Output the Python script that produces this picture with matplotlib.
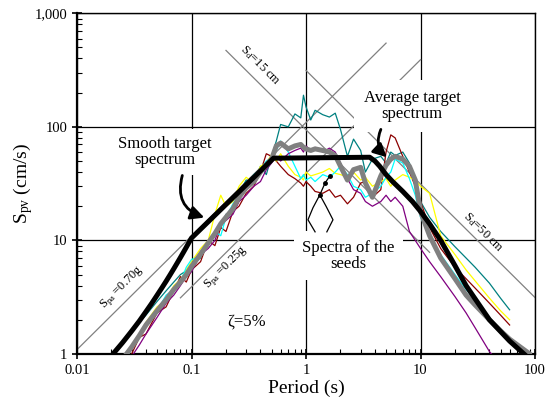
import numpy as np
import matplotlib.pyplot as plt
from matplotlib.ticker import FuncFormatter, NullFormatter

plt.rcParams['font.family'] = ['Liberation Serif', 'DejaVu Serif']
plt.rcParams['mathtext.fontset'] = 'custom'
plt.rcParams['mathtext.rm'] = 'Liberation Serif'
plt.rcParams['mathtext.it'] = 'Liberation Serif:italic'

# periods of the seed spectra (s)
T = [0.02, 0.025, 0.03, 0.035, 0.04, 0.05, 0.06, 0.07, 0.08, 0.09,
     0.1, 0.12, 0.14, 0.16, 0.18, 0.2, 0.23, 0.26, 0.3, 0.35,
     0.4, 0.45, 0.5, 0.55, 0.6, 0.7, 0.8, 0.9, 0.95, 1.0,
     1.1, 1.2, 1.4, 1.6, 1.8, 2.0, 2.3, 2.6, 3.0, 3.3,
     3.8, 4.5, 5.0, 5.5, 6.0, 7.0, 8.0, 9.0, 10, 12,
     15, 20, 25, 30, 40, 50, 60]

# seed spectra, Spv (cm/s)
seed_teal = [1.0, 1.3, 1.6, 1.9, 2.2, 2.9, 3.6, 4.3, 5.0, 5.4,
             6.2, 7.0, 9.8, 12, 13, 17, 18, 26, 34, 33,
             45, 38, 55, 75, 105, 100, 130, 120, 190, 150,
             115, 140, 128, 122, 132, 95, 55, 78, 62, 40,
             52, 55, 48, 60, 56, 60, 48, 32, 22, 16,
             12, 8.8, 7.0, 5.8, 4.2, 3.1, 2.45]
seed_red = [0.6, 0.8, 1.0, 1.4, 1.5, 2.3, 2.6, 3.6, 4.8, 4.3,
            5.5, 6.5, 10, 9.0, 13, 12, 18, 20, 26, 30,
            40, 58, 55, 50, 45, 38, 35, 32, 30, 33,
            30, 27, 26, 28, 24, 25, 21, 24, 32, 33,
            24, 28, 60, 85, 80, 55, 40, 30, 22, 13,
            8.5, 5.8, 4.6, 3.8, 2.8, 2.2, 1.8]
seed_yellow = [0.7, 0.9, 1.2, 1.5, 1.9, 2.6, 3.0, 4.0, 4.5, 5.5,
               6.5, 8.5, 10, 17, 25, 20, 22, 30, 36, 32,
               45, 48, 57, 50, 58, 45, 38, 36, 34, 40,
               37, 38, 40, 43, 39, 38, 36, 40, 34, 36,
               30, 33, 35, 30, 34, 38, 36, 34, 30, 26,
               11, 7.5, 5.5, 4.4, 3.1, 2.4, 2.0]
seed_cyan = [0.6, 0.85, 1.1, 1.4, 1.8, 2.4, 3.3, 3.7, 4.3, 5.8,
             6.8, 7.2, 9.0, 12, 11, 16, 21, 25, 30, 38,
             42, 50, 53, 62, 75, 60, 45, 35, 38, 34,
             36, 33, 38, 36, 40, 45, 38, 30, 28, 24,
             26, 30, 36, 40, 52, 48, 35, 25, 16, 11,
             7.5, 5.0, 3.7, 3.0, 2.1, 1.6, 1.37]
seed_purple = [0.5, 0.7, 0.95, 1.2, 1.5, 2.1, 2.8, 3.3, 4.0, 4.8,
               5.3, 7.5, 8.5, 10, 14, 15, 17, 22, 25, 30,
               33, 42, 48, 55, 50, 58, 62, 65, 60, 68,
               62, 66, 60, 65, 60, 48, 35, 28, 26, 22,
               20, 22, 25, 22, 24, 20, 12, 10, 8.5, 6.5,
               4.8, 3.2, 2.3, 1.7, 1.05, 0.8, 0.7]

# average target spectrum
T_avg = [0.025, 0.03, 0.035, 0.04, 0.05, 0.06, 0.07, 0.08, 0.09, 0.1,
         0.12, 0.14, 0.16, 0.18, 0.2, 0.23, 0.26, 0.3, 0.35, 0.4,
         0.45, 0.5, 0.55, 0.6, 0.7, 0.8, 0.9, 0.95, 1.0, 1.1,
         1.2, 1.4, 1.6, 1.8, 2.0, 2.3, 2.6, 3.0, 3.3, 3.8,
         4.5, 5.0, 5.5, 6.0, 7.0, 8.0, 9.0, 10, 12, 15,
         20, 25, 30, 40, 50, 60, 90]
S_avg = [0.9, 1.15, 1.45, 1.8, 2.4, 3.0, 3.7, 4.3, 5.0, 5.9,
         7.6, 9.5, 11.5, 14, 16, 19, 24, 29, 33, 40,
         46, 52, 68, 72, 64, 68, 70, 66, 64, 62,
         64, 62, 60, 56, 45, 34, 42, 44, 32, 24,
         37, 46, 52, 55, 52, 45, 34, 18, 11, 7,
         4.6, 3.3, 2.7, 2.0, 1.6, 1.35, 1.0]

# smooth target spectrum
T_smooth = [0.0206, 0.025, 0.03, 0.035, 0.04, 0.045, 0.05, 0.055, 0.06, 0.065,
            0.07, 0.075, 0.08, 0.085, 0.09, 0.095, 0.1, 0.52, 3.6, 4.0,
            4.4, 5.0, 5.7, 7.0, 8.5, 10, 12, 15, 20, 25,
            40, 60, 90]
S_smooth = [1.0, 1.26, 1.59, 1.95, 2.36, 2.80, 3.29, 3.81, 4.37, 4.98,
            5.63, 6.33, 7.07, 7.86, 8.70, 9.59, 10.5, 53, 54, 50,
            45, 38, 33, 27, 22, 18, 14, 10, 6, 4,
            2, 1.3, 0.9]

# reference lines: constant displacement (cm) and constant pseudo-acceleration (g)
sd_vals = [15, 50]
sd_T = [[0.2, 12], [1.0, 100]]
spa_vals = [0.70, 0.25]
spa_T = [[0.01, 5], [0.08, 10]]

fig = plt.figure(figsize=(5.47, 4.12), dpi=100)
ax = fig.add_axes([0.1408, 0.1408, 0.8373, 0.8269])
ax.set_xscale('log')
ax.set_yscale('log')
ax.set_xlim(0.01, 100)
ax.set_ylim(1, 1000)

ax.set_axisbelow(True)
ax.grid(which='major', color='black', lw=0.9)
ax.grid(which='minor', visible=False)

for sd, tt in zip(sd_vals, sd_T):
    tt = np.array(tt)
    ax.plot(tt, 2 * np.pi * sd / tt, color='#808080', lw=0.9, zorder=1.5)
for spa, tt in zip(spa_vals, spa_T):
    tt = np.array(tt)
    ax.plot(tt, spa * 981 * tt / (2 * np.pi), color='#808080', lw=0.9, zorder=1.5)

seeds = [seed_teal, seed_red, seed_yellow, seed_cyan, seed_purple]
colors = ['#008080', '#8B0000', '#FFFF00', '#00FFFF', '#800080']
for s, c in zip(seeds, colors):
    ax.plot(T, s, color=c, lw=0.9, zorder=3)

ax.plot(T_avg, S_avg, color='#808080', lw=3.6, zorder=4, solid_capstyle='round')
ax.plot(T_smooth, S_smooth, color='black', lw=3.6, zorder=5,
        solid_capstyle='round', solid_joinstyle='round')

# labels on reference lines
ax.text(0.40, 350, r'S$_\mathregular{d}$=15 cm', rotation=-45, fontsize=9,
        ha='center', va='center', rotation_mode='anchor')
ax.text(35.2, 11.7, r'S$_\mathregular{d}$=50 cm', rotation=-45, fontsize=9,
        ha='center', va='center', rotation_mode='anchor')
ax.text(0.0247, 3.84, r'S$_\mathregular{pa}$ =0.70g', rotation=45, fontsize=9,
        ha='center', va='center', rotation_mode='anchor')
ax.text(0.2, 5.75, r'S$_\mathregular{pa}$ =0.25g', rotation=45, fontsize=9,
        ha='center', va='center', rotation_mode='anchor')
ax.text(0.3, 1.93, 'ζ=5%', fontsize=12, ha='center', va='center')

box = dict(boxstyle='square,pad=0.4', fc='white', ec='none')
ax.text(0.058, 60, 'Smooth target\nspectrum', fontsize=12, ha='center', va='center',
        linespacing=1.0, bbox=box, zorder=2.5)
ax.annotate('', xy=(0.1365, 15.6), xytext=(0.0844, 39.4),
            arrowprops=dict(arrowstyle='-|>,head_length=0.8,head_width=0.4', lw=2,
                            color='black', connectionstyle='arc3,rad=0.5'), zorder=6)

box2 = dict(boxstyle='square,pad=0.6', fc='white', ec='none')
ax.text(8.43, 153, 'Average target\nspectrum', fontsize=12, ha='center', va='center',
        linespacing=1.0, bbox=box2, zorder=2.5)
ax.annotate('', xy=(5.3, 52), xytext=(4.61, 100),
            arrowprops=dict(arrowstyle='-|>,head_length=0.8,head_width=0.4', lw=2,
                            color='black', connectionstyle='arc3,rad=0.4'), zorder=6)

box3 = dict(boxstyle='square,pad=0.5', fc='white', ec='none')
ax.text(2.33, 7.33, 'Spectra of the\nseeds', fontsize=12, ha='center', va='center',
        linespacing=1.0, bbox=box3, zorder=2.5)
ax.plot([1.20, 1.04, 1.15, 1.32], [11.9, 15.2, 19.4, 25.2], color='black', lw=0.9, zorder=6)
ax.plot([1.52, 1.72, 1.50, 1.32, 1.47, 1.62], [11.9, 15.2, 19.9, 25.2, 32.2, 37.1],
        color='black', lw=0.9, zorder=6)
ax.plot([1.32, 1.47, 1.62], [25.2, 32.2, 37.1], 'o', color='black', ms=2.5, zorder=6)

ax.xaxis.set_major_formatter(FuncFormatter(lambda v, p: '%g' % v))
ax.yaxis.set_major_formatter(FuncFormatter(lambda v, p: '{:,.0f}'.format(v)))
ax.xaxis.set_minor_formatter(NullFormatter())
ax.yaxis.set_minor_formatter(NullFormatter())
ax.tick_params(which='major', direction='inout', length=7, width=1.2, labelsize=10.5,
               top=False, right=False)
ax.tick_params(which='minor', direction='in', length=3.5, width=0.8, top=False, right=False)

ax.spines['left'].set_linewidth(1.6)
ax.spines['bottom'].set_linewidth(1.6)
ax.spines['top'].set_linewidth(1.0)
ax.spines['right'].set_linewidth(1.0)

ax.set_xlabel('Period (s)', fontsize=14, labelpad=2)
ax.set_ylabel(r'S$_\mathregular{pv}$ (cm/s)', fontsize=14, labelpad=0)

fig.savefig('out.png', dpi=100)
